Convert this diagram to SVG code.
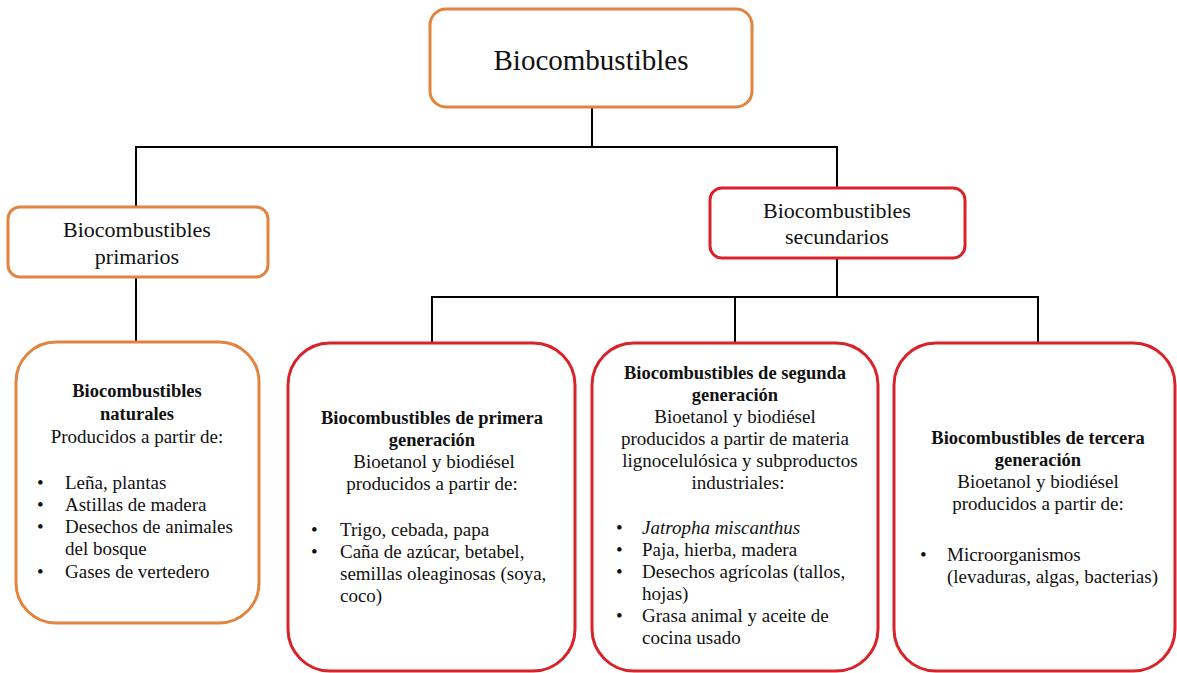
<svg xmlns="http://www.w3.org/2000/svg" width="1177" height="673" viewBox="0 0 1177 673" font-family="Liberation Serif, Times New Roman, serif">
<style>
text{fill:#111;}
.o{fill:#fff;stroke:#E0843F;stroke-width:3;}
.r{fill:#fff;stroke:#D8232A;stroke-width:3;}
.c{text-anchor:middle;}
.b{font-weight:bold;font-size:18.5px;}
.t{font-size:19px;}
.i{font-style:italic;}
#connectors line{stroke:#000;stroke-width:2;}
</style>
<rect width="1177" height="673" fill="#fff"/>
<g id="connectors">
<line x1="592" y1="107" x2="592" y2="147"/>
<line x1="135" y1="147" x2="838" y2="147"/>
<line x1="136" y1="147" x2="136" y2="207"/>
<line x1="837" y1="147" x2="837" y2="188"/>
<line x1="136" y1="278" x2="136" y2="342"/>
<line x1="837" y1="258" x2="837" y2="297"/>
<line x1="431" y1="297" x2="1039" y2="297"/>
<line x1="432" y1="297" x2="432" y2="343"/>
<line x1="735" y1="297" x2="735" y2="343"/>
<line x1="1038" y1="297" x2="1038" y2="343"/>
</g>
<g id="root">
<rect class="o" x="430" y="9" width="322" height="98" rx="16"/>
<text class="c" x="591" y="70" font-size="29">Biocombustibles</text>
</g>
<g id="primarios">
<rect class="o" x="8" y="207" width="260" height="70" rx="12" stroke-width="2.5"/>
<text class="c" x="137" y="237" font-size="22">Biocombustibles</text>
<text class="c" x="137" y="264" font-size="22">primarios</text>
</g>
<g id="secundarios">
<rect class="r" x="710" y="188" width="255" height="70" rx="12" stroke-width="2.5"/>
<text class="c" x="837" y="218" font-size="22">Biocombustibles</text>
<text class="c" x="837" y="244" font-size="22">secundarios</text>
</g>
<g id="naturales">
<rect class="o" x="16" y="342" width="243" height="281" rx="40"/>
<text class="c b" x="137" y="397">Biocombustibles</text>
<text class="c b" x="137" y="420">naturales</text>
<text class="c t" x="137" y="443">Producidos a partir de:</text>
<text class="t" x="37" y="489">•</text><text class="t" x="65" y="489">Leña, plantas</text>
<text class="t" x="37" y="511">•</text><text class="t" x="65" y="511">Astillas de madera</text>
<text class="t" x="37" y="533">•</text><text class="t" x="65" y="533">Desechos de animales</text>
<text class="t" x="65" y="555">del bosque</text>
<text class="t" x="37" y="578">•</text><text class="t" x="65" y="578">Gases de vertedero</text>
</g>
<g id="primera">
<rect class="r" x="288" y="343" width="287" height="328" rx="42"/>
<text class="c b" x="432" y="424">Biocombustibles  de primera</text>
<text class="c b" x="432" y="446">generación</text>
<text class="c t" x="434" y="468">Bioetanol y biodiésel</text>
<text class="c t" x="432" y="490">producidos a partir de:</text>
<text class="t" x="311" y="536">•</text><text class="t" x="340" y="536">Trigo, cebada, papa</text>
<text class="t" x="311" y="558">•</text><text class="t" x="340" y="558">Caña de azúcar, betabel,</text>
<text class="t" x="340" y="580">semillas oleaginosas (soya,</text>
<text class="t" x="340" y="602">coco)</text>
</g>
<g id="segunda">
<rect class="r" x="592" y="343" width="286" height="328" rx="42"/>
<text class="c b" x="735" y="379">Biocombustibles  de segunda</text>
<text class="c b" x="735" y="401">generación</text>
<text class="c t" x="735" y="423">Bioetanol y biodiésel</text>
<text class="c t" x="735" y="445">producidos a partir de materia</text>
<text class="c t" x="740" y="467">lignocelulósica y subproductos</text>
<text class="c t" x="738" y="489">industriales:</text>
<text class="t" x="616" y="534">•</text><text class="t i" x="642" y="534">Jatropha miscanthus</text>
<text class="t" x="616" y="556">•</text><text class="t" x="642" y="556">Paja, hierba, madera</text>
<text class="t" x="616" y="578">•</text><text class="t" x="642" y="578">Desechos agrícolas (tallos,</text>
<text class="t" x="642" y="600">hojas)</text>
<text class="t" x="616" y="622">•</text><text class="t" x="642" y="622">Grasa animal y aceite de</text>
<text class="t" x="642" y="644">cocina usado</text>
</g>
<g id="tercera">
<rect class="r" x="894" y="343" width="281" height="328" rx="42"/>
<text class="c b" x="1038" y="444">Biocombustibles  de tercera</text>
<text class="c b" x="1038" y="466">generación</text>
<text class="c t" x="1038" y="488">Bioetanol y biodiésel</text>
<text class="c t" x="1038" y="510">producidos a partir de:</text>
<text class="t" x="920" y="561">•</text><text class="t" x="947" y="561">Microorganismos</text>
<text class="t" x="947" y="583">(levaduras, algas, bacterias)</text>
</g>
</svg>
